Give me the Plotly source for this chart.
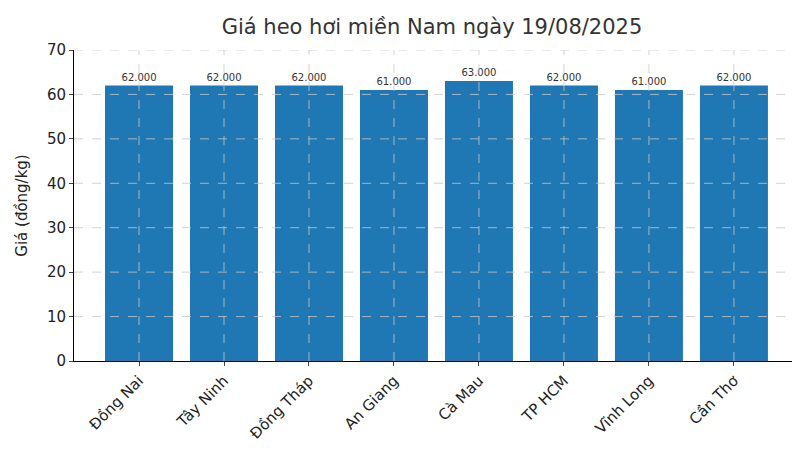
import plotly.graph_objects as go

provinces = ["Đồng Nai", "Tây Ninh", "Đồng Tháp", "An Giang", "Cà Mau", "TP HCM", "Vĩnh Long", "Cần Thơ"]
prices = [62, 62, 62, 61, 63, 62, 61, 62]
price_labels = ["62.000", "62.000", "62.000", "61.000", "63.000", "62.000", "61.000", "62.000"]
y_ticks = [0, 10, 20, 30, 40, 50, 60, 70]

fig = go.Figure(go.Bar(
    x=provinces, y=prices, text=price_labels, textposition="outside",
    textfont=dict(size=10, color="#333"), marker_color="#1f77b4", marker_line_width=0, width=0.8,
    cliponaxis=False,
))
grid = dict(color="#c8c8c8", width=0.8, dash="dash")
shapes = [dict(type="line", xref="x", yref="paper", x0=p, x1=p, y0=0, y1=1, line=grid, layer="above")
          for p in provinces]
shapes += [dict(type="line", xref="paper", yref="y", x0=0, x1=1, y0=v, y1=v, line=grid, layer="above")
           for v in y_ticks[1:]]
fig.update_layout(
    width=800, height=450, margin=dict(l=66, r=15, t=42, b=97, autoexpand=False),
    plot_bgcolor="white", paper_bgcolor="white",
    font=dict(family="DejaVu Sans", size=15, color="#222"),
    title=dict(text="Giá heo hơi miền Nam ngày 19/08/2025", x=0.53, xanchor="center", y=0.975, yanchor="top",
               font=dict(size=21, color="#333")),
    showlegend=False, shapes=shapes,
)
fig.update_xaxes(tickangle=-45, showline=True, linecolor="black", showgrid=False,
                 ticks="outside", ticklen=4, automargin=False,
                 range=[-0.765, 7.695], tickfont=dict(size=15))
fig.update_yaxes(range=[0, 70], tickvals=y_ticks, showline=True, linecolor="black", showgrid=False,
                 ticks="outside", ticklen=4, automargin=False,
                 title=dict(text="Giá (đồng/kg)", font=dict(size=15)), zeroline=False, tickfont=dict(size=15))
fig.write_html("out.html")
